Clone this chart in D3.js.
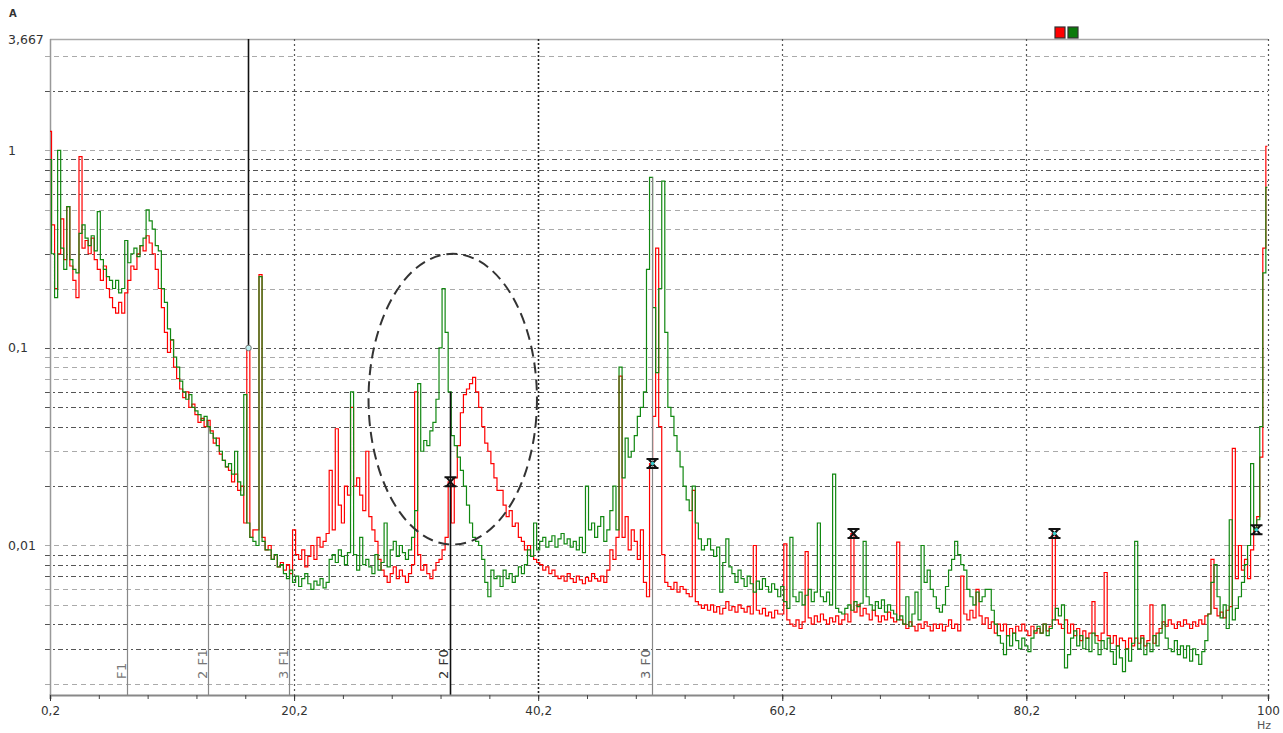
<!DOCTYPE html>
<html>
<head>
<meta charset="utf-8">
<script src="https://cdn.jsdelivr.net/npm/d3@7"></script>
<style>
    body { margin: 0; background: #fff; }
    svg { display: block; font-family: "DejaVu Sans", Verdana, sans-serif; }
</style>
</head>
<body>
<div id="chart"></div>
<script>
// spectrum bins: 0.2 Hz, then every 0.25 Hz
const binStart = 0.2;
const binStep = 0.25;

// amplitudes in A, one value per bin
const redAmps = [
    1.25, 0.42, 0.2, 0.3, 0.45, 0.28, 0.52, 0.26,
    0.22, 0.18, 0.93, 0.32, 0.35, 0.3, 0.36, 0.28,
    0.25, 0.22, 0.26, 0.2, 0.18, 0.16, 0.15, 0.17,
    0.15, 0.19, 0.22, 0.26, 0.25, 0.3, 0.33, 0.31,
    0.37, 0.34, 0.3, 0.25, 0.2, 0.16, 0.12, 0.095,
    0.11, 0.08, 0.07, 0.062, 0.056, 0.06, 0.05, 0.052,
    0.046, 0.042, 0.044, 0.04, 0.043, 0.038, 0.033, 0.035,
    0.029, 0.027, 0.025, 0.024, 0.021, 0.023, 0.019, 0.02,
    0.013, 0.1, 0.011, 0.012, 0.012, 0.235, 0.011, 0.0095,
    0.01, 0.0085, 0.009, 0.0078, 0.0082, 0.0075, 0.008, 0.0072,
    0.012, 0.009, 0.0085, 0.0095, 0.0078, 0.0088, 0.01, 0.0085,
    0.011, 0.0098, 0.0105, 0.0115, 0.024, 0.012, 0.039, 0.016,
    0.013, 0.02, 0.018, 0.05, 0.02, 0.022, 0.018, 0.015,
    0.03, 0.014, 0.012, 0.0105, 0.0085, 0.0075, 0.007, 0.0065,
    0.0072, 0.0078, 0.0068, 0.0075, 0.007, 0.0065, 0.0072, 0.008,
    0.06, 0.009, 0.0075, 0.008, 0.0072, 0.0068, 0.0075, 0.0082,
    0.0085, 0.0095, 0.011, 0.021, 0.013, 0.022, 0.032, 0.047,
    0.058, 0.062, 0.066, 0.071, 0.06, 0.05, 0.04, 0.033,
    0.03, 0.026, 0.022, 0.019, 0.019, 0.016, 0.014, 0.015,
    0.0125, 0.013, 0.011, 0.0105, 0.0095, 0.01, 0.0088, 0.0085,
    0.0082, 0.008, 0.0075, 0.0078, 0.0072, 0.0075, 0.007, 0.0068,
    0.007, 0.0066, 0.0072, 0.0068, 0.0065, 0.007, 0.0067, 0.0064,
    0.0069, 0.0066, 0.0072, 0.0068, 0.0066, 0.007, 0.0065, 0.0075,
    0.0095, 0.0085, 0.011, 0.072, 0.011, 0.014, 0.0095, 0.012,
    0.0105, 0.0085, 0.012, 0.0065, 0.0055, 0.026, 0.045, 0.32,
    0.04, 0.009, 0.0065, 0.0062, 0.006, 0.0065, 0.0058, 0.0062,
    0.006, 0.0057, 0.0055, 0.019, 0.0052, 0.005, 0.0048, 0.005,
    0.0047, 0.005, 0.0046, 0.0049, 0.0045, 0.0048, 0.0052, 0.0047,
    0.0049, 0.0046, 0.005, 0.0048, 0.0046, 0.0049, 0.0045, 0.01,
    0.0047, 0.0045, 0.0048, 0.0044, 0.0046, 0.0043, 0.0047, 0.0045,
    0.0045, 0.0102, 0.0042, 0.004, 0.0039, 0.0042, 0.0038, 0.0041,
    0.0093, 0.0043, 0.004, 0.0044, 0.0041, 0.0045, 0.0042, 0.004,
    0.0043, 0.0041, 0.0044, 0.004, 0.0042, 0.0045, 0.0041, 0.0115,
    0.0046, 0.005, 0.0044, 0.0048, 0.0045, 0.0042, 0.0047, 0.0044,
    0.0041, 0.0044, 0.0042, 0.0046, 0.0043, 0.0041, 0.0104, 0.0042,
    0.004, 0.0038, 0.0041, 0.0039, 0.0037, 0.004, 0.0038, 0.0041,
    0.0039, 0.0037, 0.004, 0.0038, 0.004, 0.0037, 0.0039, 0.0042,
    0.0038, 0.004, 0.0037, 0.007, 0.0045, 0.0042, 0.0047, 0.0043,
    0.006, 0.0044, 0.004, 0.0043, 0.0038, 0.0041, 0.0036, 0.004,
    0.0037, 0.004, 0.0035, 0.0038, 0.0036, 0.0039, 0.0037, 0.004,
    0.0037, 0.0035, 0.0039, 0.0036, 0.0038, 0.0036, 0.004, 0.0037,
    0.0039, 0.0115, 0.0042, 0.004, 0.0038, 0.0042, 0.0036, 0.004,
    0.0035, 0.0038, 0.0033, 0.0037, 0.0034, 0.0036, 0.0052, 0.0035,
    0.0033, 0.0036, 0.0073, 0.0035, 0.0032, 0.0035, 0.0031, 0.0034,
    0.0033, 0.003, 0.0034, 0.0031, 0.0034, 0.0032, 0.0035, 0.0031,
    0.0033, 0.005, 0.0032, 0.0036, 0.0038, 0.0041, 0.0039, 0.0042,
    0.004, 0.0038, 0.0041, 0.0039, 0.0042, 0.004, 0.0038, 0.0041,
    0.0039, 0.0042, 0.004, 0.0044, 0.0045, 0.0085, 0.0048, 0.0044,
    0.0046, 0.0043, 0.0047, 0.0049, 0.031, 0.0068, 0.01, 0.0075,
    0.0085, 0.0068, 0.0095, 0.012, 0.014, 0.028, 0.32, 1.05
];

const greenAmps = [
    0.9, 0.3, 0.18, 1.0, 0.32, 0.25, 0.52, 0.28,
    0.25, 0.24, 0.38, 0.42, 0.36, 0.33, 0.37, 0.31,
    0.49, 0.28, 0.25, 0.23, 0.22, 0.2, 0.22, 0.19,
    0.2, 0.35, 0.27, 0.3, 0.32, 0.29, 0.33, 0.36,
    0.5, 0.44, 0.4, 0.33, 0.31, 0.2, 0.17, 0.125,
    0.11, 0.09, 0.08, 0.068, 0.06, 0.055, 0.058, 0.05,
    0.048, 0.046, 0.043, 0.045, 0.04, 0.037, 0.035, 0.032,
    0.03, 0.027, 0.025, 0.026, 0.023, 0.03, 0.021, 0.018,
    0.058, 0.013, 0.011, 0.0105, 0.01, 0.23, 0.0105, 0.0095,
    0.0095, 0.0085, 0.009, 0.0078, 0.008, 0.0072, 0.0068, 0.0075,
    0.0065, 0.007, 0.0062, 0.0068, 0.0072, 0.0064, 0.006, 0.0066,
    0.0063, 0.0068, 0.0061, 0.0065, 0.0085, 0.009, 0.0082, 0.0095,
    0.0088, 0.008, 0.0092, 0.06, 0.009, 0.0075, 0.011, 0.008,
    0.0085, 0.0078, 0.0072, 0.009, 0.0075, 0.0082, 0.013, 0.0078,
    0.0095, 0.0105, 0.0088, 0.01, 0.0092, 0.0085, 0.0095, 0.011,
    0.015, 0.066, 0.03, 0.034, 0.032, 0.038, 0.042, 0.055,
    0.1, 0.2, 0.12, 0.06, 0.036, 0.032, 0.028, 0.024,
    0.02, 0.016, 0.013, 0.011, 0.0105, 0.01, 0.0085, 0.0065,
    0.0055, 0.0075, 0.0068, 0.007, 0.0062, 0.0075, 0.0068, 0.0072,
    0.0065, 0.007, 0.0078, 0.0072, 0.008, 0.0095, 0.0088, 0.013,
    0.0095, 0.0105, 0.011, 0.0098, 0.0105, 0.0112, 0.0098, 0.0108,
    0.0115, 0.0102, 0.0108, 0.0098, 0.0105, 0.0095, 0.011, 0.0092,
    0.02, 0.012, 0.013, 0.011, 0.0125, 0.014, 0.0105, 0.012,
    0.015, 0.02, 0.012, 0.08, 0.022, 0.035, 0.028, 0.03,
    0.036, 0.045, 0.05, 0.06, 0.25, 0.73, 0.16, 0.075,
    0.2, 0.7, 0.12, 0.05, 0.045, 0.036, 0.03, 0.025,
    0.02, 0.017, 0.015, 0.02, 0.013, 0.0108, 0.0095, 0.01,
    0.0108, 0.0095, 0.0088, 0.0098, 0.0058, 0.0082, 0.0108, 0.0078,
    0.0072, 0.0065, 0.0075, 0.0068, 0.0062, 0.007, 0.0064, 0.0058,
    0.0066, 0.006, 0.0068, 0.0062, 0.0058, 0.0064, 0.006, 0.0055,
    0.0062, 0.0052, 0.0048, 0.011, 0.0055, 0.0052, 0.0058, 0.005,
    0.0056, 0.006, 0.0052, 0.0058, 0.013, 0.0055, 0.0052, 0.0058,
    0.005, 0.023, 0.0048, 0.0046, 0.0045, 0.0048, 0.005, 0.0047,
    0.0052, 0.0049, 0.0051, 0.0105, 0.0055, 0.005, 0.0047, 0.0052,
    0.0048, 0.0053, 0.0046, 0.005, 0.0047, 0.0045, 0.0042, 0.0044,
    0.004, 0.0055, 0.0039, 0.0045, 0.0058, 0.0042, 0.01, 0.0065,
    0.0075, 0.006, 0.0055, 0.0048, 0.0046, 0.005, 0.0062, 0.0075,
    0.0085, 0.0105, 0.009, 0.008, 0.0075, 0.006, 0.0055, 0.005,
    0.0058, 0.0052, 0.0055, 0.006, 0.006, 0.0047, 0.004, 0.0035,
    0.0032, 0.0028, 0.0035, 0.0031, 0.0036, 0.0033, 0.003, 0.0034,
    0.0031, 0.0029, 0.0034, 0.0037, 0.0039, 0.0036, 0.004, 0.0035,
    0.0038, 0.0042, 0.0048, 0.0044, 0.005, 0.0024, 0.0028, 0.0034,
    0.0037, 0.0031, 0.0035, 0.003, 0.0034, 0.0029, 0.0036, 0.0032,
    0.0028, 0.0033, 0.003, 0.0034, 0.0029, 0.0025, 0.0031, 0.0027,
    0.0023, 0.003, 0.0026, 0.0032, 0.0105, 0.003, 0.0034, 0.0028,
    0.0032, 0.0029, 0.0035, 0.0031, 0.0036, 0.005, 0.0034, 0.003,
    0.0029, 0.0033, 0.0028, 0.0031, 0.0027, 0.0031, 0.0026, 0.003,
    0.0028, 0.0025, 0.0029, 0.0033, 0.0045, 0.0065, 0.008, 0.0055,
    0.0043, 0.005, 0.0038, 0.0135, 0.0042, 0.0048, 0.0055, 0.0065,
    0.008, 0.01, 0.026, 0.012, 0.0135, 0.04, 0.24, 0.65
];

const xTickValues = [0.2, 20.2, 40.2, 60.2, 80.2, 100];
const xTickLabels = ["0,2", "20,2", "40,2", "60,2", "80,2", "100"];
const yTickValues = [3.667, 1, 0.1, 0.01];
const yTickLabels = ["3,667", "1", "0,1", "0,01"];

// band / harmonic cursors (Hz)
const f1Cursors = [
    { label: "F1", f: 6.5 },
    { label: "2 F1", f: 13.15 },
    { label: "3 F1", f: 19.8 }
];
const f0Freq = 16.45;
const f0Harmonics = [
    { label: "2 F0", f: 33.0, line: "#111", cyan: false },
    { label: "3 F0", f: 49.5, line: "#888", cyan: true },
    { label: "", f: 66.0, line: null, cyan: false },
    { label: "", f: 82.45, line: null, cyan: true },
    { label: "", f: 99.0, line: null, cyan: true }
];
// dashed ellipse around the 2 F0 zone
const ellipseZone = { f0: 26.3, f1: 40.1, top: 0.3, bottom: 0.0101 };

(function () {
    const W = 1283, H = 733;
    const margin = { top: 39, right: 15, bottom: 38, left: 50 };
    const width = W - margin.left - margin.right;
    const height = H - margin.top - margin.bottom;

    const svg = d3.select("#chart").append("svg")
        .attr("width", W)
        .attr("height", H);

    const g = svg.append("g")
        .attr("transform", `translate(${margin.left},${margin.top})`);

    const x = d3.scaleLinear().domain([0.2, 100]).range([0, width]);
    const y = d3.scaleLog().domain([0.00175, 3.667]).range([height, 0]);

    const bins = redAmps.map((v, i) => binStart + i * binStep);
    const red = redAmps.map((v, i) => ({ f: bins[i], v }));
    const green = greenAmps.map((v, i) => ({ f: bins[i], v }));
    const binOf = f => Math.round((f - binStart) / binStep);

    // horizontal log grid
    const darkLines = [2, 0.9, 0.8, 0.7, 0.6, 0.3, 0.1, 0.06, 0.05, 0.04, 0.02,
        0.009, 0.008, 0.007, 0.004, 0.003];
    const gridVals = [];
    [0.001, 0.01, 0.1, 1].forEach(dec => {
        for (let m = 1; m <= 9; m++) {
            const v = +(dec * m).toPrecision(3);
            if (v > y.domain()[0] && v < 3.667) gridVals.push(v);
        }
    });
    g.append("g").selectAll("line")
        .data(gridVals)
        .join("line")
        .attr("x1", -5).attr("x2", width)
        .attr("y1", d => Math.round(y(d)) + 0.5)
        .attr("y2", d => Math.round(y(d)) + 0.5)
        .attr("stroke", d => darkLines.includes(d) ? "#555" : "#aaa")
        .attr("stroke-width", 1)
        .attr("stroke-dasharray", d => darkLines.includes(d) ? "5,3,2,3" : "5,4");

    // top frame
    g.append("line")
        .attr("x1", 0).attr("x2", width).attr("y1", 0.5).attr("y2", 0.5)
        .attr("stroke", "#aaa").attr("stroke-width", 1.5);

    // vertical grid
    g.append("g").selectAll("line")
        .data([20.2, 40.2, 60.2, 80.2, 100])
        .join("line")
        .attr("x1", d => Math.round(x(d)) + 0.5)
        .attr("x2", d => Math.round(x(d)) + 0.5)
        .attr("y1", 0).attr("y2", height)
        .attr("stroke", d => d === 40.2 ? "#222" : "#555")
        .attr("stroke-width", d => d === 40.2 ? 1.6 : 1.2)
        .attr("stroke-dasharray", d => d === 40.2 ? "2,2" : "2,3");

    // left axis line
    g.append("line")
        .attr("x1", 0.5).attr("x2", 0.5).attr("y1", 0).attr("y2", height)
        .attr("stroke", "#999").attr("stroke-width", 1.5);

    // F1 cursors, from the bottom up to the spectrum
    const topAt = f => Math.max(redAmps[binOf(f)], greenAmps[binOf(f)]);
    f1Cursors.forEach(c => {
        const cx = Math.round(x(c.f)) + 0.5;
        g.append("line")
            .attr("x1", cx).attr("x2", cx)
            .attr("y1", height).attr("y2", y(topAt(c.f)))
            .attr("stroke", "#888").attr("stroke-width", 1.2);
        g.append("text")
            .attr("transform", `translate(${cx - 2},${height - 16}) rotate(-90)`)
            .attr("font-size", 13)
            .attr("letter-spacing", 0.5)
            .attr("fill", "#777")
            .text(c.label);
    });

    // clipped spectra
    svg.append("defs").append("clipPath").attr("id", "plotClip")
        .append("rect").attr("x", 0).attr("y", 0).attr("width", width + 1).attr("height", height);

    const line = d3.line()
        .x(d => x(d.f))
        .y(d => y(d.v))
        .curve(d3.curveStep);

    const plot = g.append("g").attr("clip-path", "url(#plotClip)");
    plot.append("path").datum(red)
        .attr("d", line).attr("fill", "none")
        .attr("stroke", "#ff0000").attr("stroke-width", 1.2);
    plot.append("path").datum(green)
        .attr("d", line).attr("fill", "none")
        .attr("stroke", "#118811").attr("stroke-width", 1.2);

    // F0 harmonic cursors
    f0Harmonics.forEach(h => {
        const hx = Math.round(x(h.f)) + 0.5;
        if (h.line) {
            g.append("line")
                .attr("x1", hx).attr("x2", hx)
                .attr("y1", height).attr("y2", y(topAt(h.f)))
                .attr("stroke", h.line).attr("stroke-width", h.line === "#111" ? 1.6 : 1.2);
            g.append("text")
                .attr("transform", `translate(${hx - 3},${height - 16}) rotate(-90)`)
                .attr("font-size", 13)
                .attr("letter-spacing", 0.5)
                .attr("fill", h.line === "#111" ? "#333" : "#666")
                .text(h.label);
        }
        const my = y(redAmps[binOf(h.f)]);
        const mk = g.append("g").attr("transform", `translate(${hx},${my})`);
        mk.append("path")
            .attr("d", "M-6,-4.5H6M-6,4.5H6M-4,-4.5L4,4.5M4,-4.5L-4,4.5")
            .attr("stroke", "#111").attr("stroke-width", 2).attr("fill", "none");
        if (h.cyan) {
            mk.append("circle").attr("r", 1.8).attr("fill", "#33cccc");
        }
    });

    // F0 cursor, from the top down to the spectrum
    const f0x = Math.round(x(f0Freq)) + 0.5;
    const f0y = y(redAmps[binOf(f0Freq)]);
    g.append("line")
        .attr("x1", f0x).attr("x2", f0x)
        .attr("y1", 0).attr("y2", f0y)
        .attr("stroke", "#111").attr("stroke-width", 1.6);
    g.append("circle")
        .attr("cx", f0x).attr("cy", f0y).attr("r", 2.8)
        .attr("fill", "#bfeff0").attr("stroke", "#777").attr("stroke-width", 1);

    // dashed ellipse
    const ex0 = x(ellipseZone.f0), ex1 = x(ellipseZone.f1);
    const ey0 = y(ellipseZone.top), ey1 = y(ellipseZone.bottom);
    g.append("ellipse")
        .attr("cx", (ex0 + ex1) / 2).attr("cy", (ey0 + ey1) / 2)
        .attr("rx", (ex1 - ex0) / 2).attr("ry", (ey1 - ey0) / 2)
        .attr("fill", "none")
        .attr("stroke", "#333").attr("stroke-width", 2)
        .attr("stroke-dasharray", "11,6");

    // x axis: minor ticks every 4 Hz, labelled majors
    const minor = d3.range(0.2, 100.1, 4);
    g.append("g")
        .attr("transform", `translate(0,${height})`)
        .call(d3.axisBottom(x).tickValues(minor).tickSize(4).tickFormat(""))
        .call(a => a.select(".domain").attr("stroke", "#888").attr("stroke-width", 2))
        .call(a => a.selectAll(".tick line").attr("stroke", "#444"));

    g.append("g")
        .attr("transform", `translate(0,${height})`)
        .call(d3.axisBottom(x).tickValues(xTickValues).tickSize(6)
            .tickFormat((d, i) => xTickLabels[i]))
        .call(a => a.select(".domain").remove())
        .call(a => a.selectAll(".tick line").attr("stroke", "#333"))
        .call(a => a.selectAll(".tick text")
            .attr("font-size", 12).attr("fill", "#333")
            .attr("font-family", "DejaVu Sans, Verdana, sans-serif")
            .attr("dy", "0.95em"));

    // y axis labels, left aligned at the page edge
    g.append("g")
        .call(d3.axisLeft(y).tickValues(yTickValues).tickSize(0)
            .tickFormat((d, i) => yTickLabels[i]))
        .call(a => a.select(".domain").remove())
        .call(a => a.selectAll(".tick text")
            .attr("x", -42)
            .attr("text-anchor", "start")
            .attr("font-size", 12.5).attr("fill", "#333")
            .attr("font-family", "DejaVu Sans, Verdana, sans-serif"));

    svg.append("text")
        .attr("x", 9).attr("y", 17)
        .attr("font-size", 10).attr("font-weight", "bold").attr("fill", "#333")
        .text("A");

    svg.append("text")
        .attr("x", 1257).attr("y", 729)
        .attr("font-size", 11).attr("fill", "#555")
        .text("Hz");

    // series swatches
    [["#ff0000", 1055], ["#0a7a0a", 1068]].forEach(([c, sx]) => {
        svg.append("rect")
            .attr("x", sx).attr("y", 27).attr("width", 10).attr("height", 11)
            .attr("fill", c).attr("stroke", "#333").attr("stroke-width", 1.2);
    });
})();
</script>
</body>
</html>
